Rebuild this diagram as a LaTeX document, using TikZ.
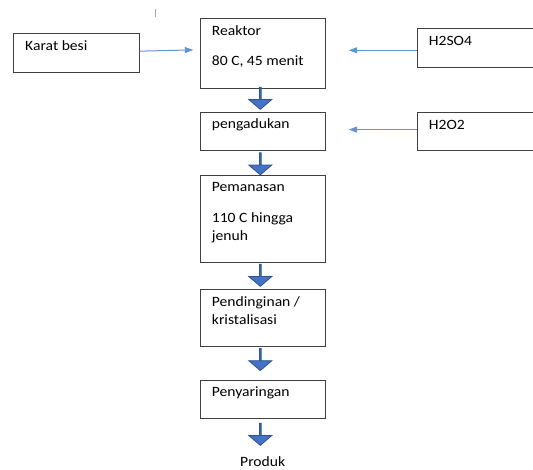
\documentclass[tikz,border=0pt]{standalone}
\usepackage{fontspec}
\setmainfont{Carlito}[FakeStretch=1.1]
\usetikzlibrary{arrows.meta, shapes.arrows}

\definecolor{edgegray}{HTML}{3F3F3F}
\definecolor{feedblue}{HTML}{6394D0}
\definecolor{fillblue}{HTML}{4472C4}
\definecolor{lineblue}{HTML}{2F528F}

\begin{document}
\begin{tikzpicture}[
    x=1pt, y=-1pt,
    % --- styles ---
    box/.style={
            draw=edgegray,
            line width=0.9pt,
            rectangle,
            anchor=north west,
            inner sep=0pt,
            minimum width=125pt
        },
    txt/.style={
            anchor=base west,
            inner sep=0pt,
            align=left,
            font=\fontsize{14.2}{17.7}\selectfont
        },
    feed/.style={
            -{Triangle[length=8.5pt,width=6pt]},
            color=feedblue,
            line width=1pt
        },
    blk/.style={
            single arrow,
            draw=lineblue,
            fill=fillblue,
            line width=0.8pt,
            shape border rotate=270,
            minimum height=22pt,
            minimum width=23pt,
            single arrow head extend=5.2pt,
            single arrow tip angle=99,
            inner sep=0pt
        }
    ]
    \useasboundingbox (0,0) rectangle (533,469);

    % --- boxes ---
    \node[box, minimum width=125.4pt, minimum height=38.4pt] (karat) at (13.3,33.3) {};
    \node[box, minimum height=69.4pt] (reaktor) at (200.3,18.3) {};
    \node[box, minimum width=130pt, minimum height=38.7pt] (h2so4) at (417.3,28) {};
    \node[box, minimum height=38.6pt] (aduk) at (200.3,111.7) {};
    \node[box, minimum width=130pt, minimum height=38.3pt] (h2o2) at (417.3,112) {};
    \node[box, minimum height=87pt] (panas) at (200.3,175) {};
    \node[box, minimum height=57pt] (dingin) at (200.3,289) {};
    \node[box, minimum height=38.3pt] (saring) at (200.3,380) {};

    % --- texts (base = last line) ---
    \node[txt] (karattxt) at ([shift={(11.7,16.7)}]karat.north west) {Karat besi};
    \node[txt] (reaktortxt) at ([shift={(11.4,47)}]reaktor.north west) {Reaktor\\[12.6pt]80 C, 45 menit};
    \node[txt] (h2so4txt) at ([shift={(11.4,17)}]h2so4.north west) {H2SO4};
    \node[txt] (aduktxt) at ([shift={(11.4,16.7)}]aduk.north west) {pengadukan};
    \node[txt] (h2o2txt) at ([shift={(11.4,17)}]h2o2.north west) {H2O2};
    \node[txt] (panastxt) at ([shift={(11.4,65)}]panas.north west) {Pemanasan\\[12.9pt]110 C hingga\\jenuh};
    \node[txt] (dingintxt) at ([shift={(11.4,35)}]dingin.north west) {Pendinginan /\\kristalisasi};
    \node[txt] (saringtxt) at ([shift={(11.4,16.7)}]saring.north west) {Penyaringan};
    \node[txt, anchor=base] (produk) at (262.7,466.7) {Produk};

    % --- block arrows ---
    \node[blk] (a1) at (260.3,98) {};
    \node[blk] (a2) at (260.3,163.5) {};
    \node[blk] (a3) at (260.3,275) {};
    \node[blk] (a4) at (260.3,359.2) {};
    \node[blk] (a5) at (260.3,434) {};

    % --- feeds ---
    \draw[feed, shorten >=7pt] ([yshift=1.8pt]karat.east) -- ([yshift=3.7pt]reaktor.west);
    \draw[feed, shorten >=22.5pt] ([yshift=-2.5pt]h2so4.west) -- ([yshift=-2.5pt]h2so4.west -| reaktor.east);
    \draw[feed, shorten >=22.5pt] ([yshift=2pt]h2o2.west) -- ([yshift=2pt]h2o2.west -| aduk.east);

    % cursor mark
    \draw[gray!70, line width=0.8pt] (155,8.5) -- (155,16.5);
\end{tikzpicture}
\end{document}
